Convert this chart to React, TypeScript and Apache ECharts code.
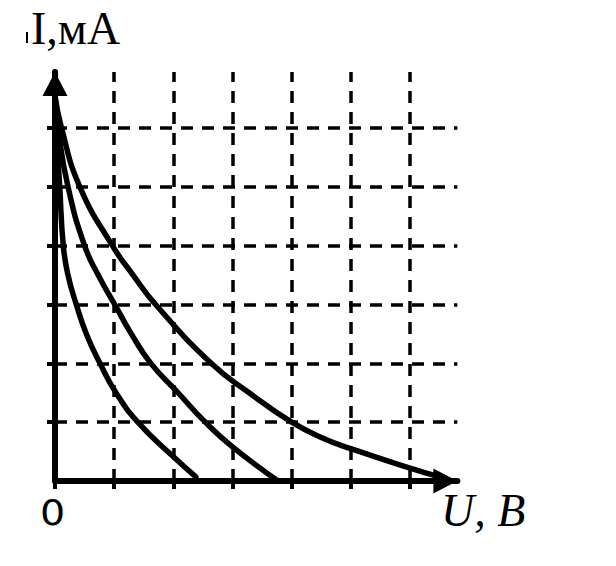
import React, { useEffect, useRef } from "react";
import * as echarts from "echarts";

// grid line positions (axis units)
const xGridValues = [1, 2, 3, 4, 5, 6];
const yGridValues = [1, 2, 3, 4, 5, 6];
const xTickValues = [0, 1, 2, 3, 4, 5, 6];
const yTickValues = [1, 2, 3, 4, 5, 6];

// curves: [U, I]
const curveInner: [number, number][] = [
  [0.0, 6.55], [0.02, 6.0], [0.08, 5.0], [0.14, 4.0], [0.22, 3.5], [0.36, 3.0],
  [0.53, 2.5], [0.76, 2.0], [1.03, 1.5], [1.4, 1.0], [1.97, 0.44], [2.38, 0.07],
];
const curveMiddle: [number, number][] = [
  [0.0, 6.55], [0.05, 6.0], [0.22, 5.0], [0.5, 4.0], [0.73, 3.5], [1.01, 3.0],
  [1.29, 2.5], [1.62, 2.0], [2.08, 1.5], [2.54, 1.0], [3.0, 0.58], [3.77, 0.0],
];
const curveOuter: [number, number][] = [
  [0.0, 6.55], [0.11, 6.0], [0.42, 5.0], [0.97, 4.0], [1.32, 3.5], [1.7, 3.0],
  [2.64, 2.0], [3.28, 1.5], [4.0, 1.0], [4.55, 0.72], [5.0, 0.55], [6.0, 0.22], [6.5, 0.07],
];

const yLabel = "I,мА";
const xLabel = "U, B";
const originLabel = "0";

export default function App() {
  const ref = useRef<HTMLDivElement>(null);
  useEffect(() => {
    if (!ref.current) return;
    const chart = echarts.init(ref.current, null, { renderer: "svg" });
    const unitX = 59.17;
    const unitY = 58.83;
    const xMax = 6.8;
    const yMax = 409 / unitY;
    const black = "#000";
    const curveStyle = { color: black, width: 5.5, cap: "round" as const, join: "round" as const };
    const axisCommon = {
      type: "value" as const,
      min: 0,
      axisLabel: { show: false },
      splitLine: { show: false },
      axisLine: {
        show: true,
        lineStyle: { color: black, width: 6 },
        symbol: ["none", "triangle"],
        symbolSize: [25, 24],
        symbolOffset: [0, -12],
      },
    };
    const smooth = 0.5;
    chart.setOption({
      animation: false,
      backgroundColor: "#fff",
      grid: { left: 55, top: 72, width: xMax * unitX, height: 409, containLabel: false },
      xAxis: {
        ...axisCommon,
        max: xMax,
        axisTick: { show: true, customValues: xTickValues, length: 8, inside: false, lineStyle: { color: black, width: 4 } },
      },
      yAxis: {
        ...axisCommon,
        max: yMax,
        axisTick: { show: true, customValues: yTickValues, length: 8, inside: false, lineStyle: { color: black, width: 4 } },
      },
      series: [
        {
          type: "line",
          data: curveInner,
          smooth,
          symbol: "none",
          clip: false,
          lineStyle: curveStyle,
          z: 5,
          markLine: {
            silent: true,
            symbol: ["none", "none"],
            label: { show: false },
            lineStyle: { color: black, width: 3.5, type: [12, 9] },
            data: [
              ...xGridValues.map((v) => ({ xAxis: v })),
              ...yGridValues.map((v) => ({ yAxis: v })),
            ],
            z: 1,
          },
        },
        { type: "line", data: curveMiddle, smooth, symbol: "none", clip: false, lineStyle: curveStyle, z: 5 },
        { type: "line", data: curveOuter, smooth, symbol: "none", clip: false, lineStyle: curveStyle, z: 5 },
      ],
      graphic: [
        {
          type: "text",
          x: 31,
          y: 28,
          style: { text: yLabel, font: '46px "Liberation Serif"', fill: black, align: "left", verticalAlign: "middle" },
        },
        {
          type: "rect",
          shape: { x: 26, y: 32, width: 2, height: 11 },
          style: { fill: black },
        },
        {
          type: "text",
          x: 441,
          y: 510.5,
          style: { text: xLabel, font: 'italic 46px "Liberation Serif"', fill: black, align: "left", verticalAlign: "middle" },
        },
        {
          type: "text",
          x: 52.7,
          y: 513,
          scaleX: 1.1,
          originX: 0,
          originY: 0,
          style: { text: originLabel, font: '36px "DejaVu Sans"', fill: black, align: "center", verticalAlign: "middle" },
        },
      ],
    });
    return () => chart.dispose();
  }, []);
  return (
    <div
      ref={ref}
      style={{ position: "fixed", left: 0, top: 0, width: 616, height: 566, background: "#fff" }}
    />
  );
}
